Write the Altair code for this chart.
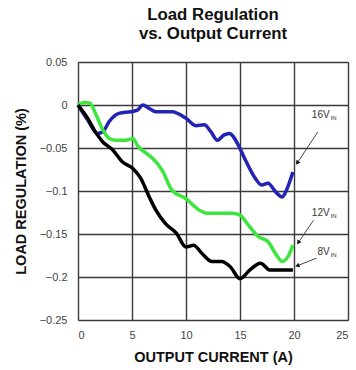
import altair as alt
import pandas as pd
import numpy as np

# ---- data ----
blue_x = [0, 0.9, 1.8, 2.3, 2.9, 3.8, 4.9, 5.5, 6.0, 6.6, 7.2, 8.7, 10.0, 10.9, 11.7, 12.3, 12.9, 13.5, 14.0, 14.9, 15.5, 16.4, 17.0, 17.6, 18.3, 18.9, 19.3, 19.9]
blue_y = [0, -0.0175, -0.033, -0.031, -0.019, -0.0097, -0.0078, -0.006, 0.0, -0.004, -0.0078, -0.0078, -0.0155, -0.024, -0.023, -0.031, -0.041, -0.035, -0.033, -0.048, -0.064, -0.085, -0.093, -0.091, -0.101, -0.107, -0.099, -0.078]

green_x = [0, 0.6, 1.1, 1.7, 2.3, 2.9, 3.5, 4.4, 5.1, 5.5, 6.3, 6.9, 7.8, 8.7, 10.0, 11.2, 12.1, 14.3, 15.0, 15.8, 16.7, 17.6, 18.4, 18.9, 19.5, 19.9]
green_y = [0, 0.003, 0.002, -0.012, -0.029, -0.039, -0.041, -0.041, -0.039, -0.047, -0.056, -0.062, -0.076, -0.099, -0.109, -0.122, -0.126, -0.126, -0.128, -0.140, -0.153, -0.159, -0.175, -0.182, -0.175, -0.163]

black_x = [0, 0.8, 1.7, 2.3, 3.2, 4.1, 5.1, 5.8, 6.6, 7.2, 8.1, 9.1, 10.0, 10.7, 11.5, 12.4, 13.3, 14.1, 15.0, 15.9, 16.9, 17.8, 18.9, 19.9]
black_y = [0, -0.0136, -0.033, -0.043, -0.052, -0.066, -0.074, -0.085, -0.107, -0.122, -0.138, -0.149, -0.165, -0.163, -0.173, -0.182, -0.182, -0.188, -0.202, -0.192, -0.184, -0.192, -0.192, -0.192]

series_names = ["16V", "12V", "8V"]
series_colors = ["#2424b4", "#3ce63c", "#000000"]

x_ticks = [0, 5, 10, 15, 20, 25]
y_ticks = [0.05, 0, -0.05, -0.1, -0.15, -0.2, -0.25]

# annotation placement (data coords)
lab_x = [23.3, 23.3, 23.3]
lab_y = [-0.0116, -0.1256, -0.171]
arr_x0 = [22.2, 21.8, 22.1]
arr_y0 = [-0.0314, -0.134, -0.178]
arr_x1 = [20.3, 20.4, 20.3]
arr_y1 = [-0.0674, -0.160, -0.187]

W, H = 270, 258
XMIN, XMAX = 0, 25
YMIN, YMAX = -0.25, 0.05

rows = []
for name, xs, ys in [("16V", blue_x, blue_y), ("12V", green_x, green_y), ("8V", black_x, black_y)]:
    for i, (a, b) in enumerate(zip(xs, ys)):
        rows.append({"series": name, "x": a, "y": b, "order": i})
df = pd.DataFrame(rows)

xs = alt.Scale(domain=[XMIN, XMAX], nice=False, zero=False)
ys = alt.Scale(domain=[YMIN, YMAX], nice=False, zero=False)

FONT = "Liberation Sans"
base_axis_x = alt.Axis(values=x_ticks, title="OUTPUT CURRENT (A)", grid=True, gridColor="#3a3a3a",
                       gridWidth=1.4, tickSize=0, labelPadding=9, labelFontSize=11,
                       labelColor="#444444", titleFontSize=14.5, titleFont=FONT,
                       labelFont=FONT, titleFontWeight="bold", titlePadding=10,
                       titleColor="#111111", domain=False)
base_axis_y = alt.Axis(values=y_ticks, title="LOAD REGULATION (%)", grid=True, gridColor="#3a3a3a",
                       gridWidth=1.4, tickSize=0, labelPadding=11, labelFontSize=11,
                       labelColor="#444444", titleFontSize=14.5, titleFont=FONT,
                       labelFont=FONT, titleFontWeight="bold", titlePadding=11,
                       titleColor="#111111", domain=False,
                       labelExpr="datum.value == 0 ? '0' : format(datum.value, '.2~f')")

lines = alt.Chart(df).mark_line(strokeWidth=3.5, interpolate="monotone").encode(
    x=alt.X("x:Q", scale=xs, axis=base_axis_x),
    y=alt.Y("y:Q", scale=ys, axis=base_axis_y),
    color=alt.Color("series:N", scale=alt.Scale(domain=series_names, range=series_colors), legend=None),
    order="order:Q",
    detail="series:N",
)

# arrows
px_per_x = W / (XMAX - XMIN)
px_per_y = H / (YMAX - YMIN)
angles = []
for a0, b0, a1, b1 in zip(arr_x0, arr_y0, arr_x1, arr_y1):
    dx = (a1 - a0) * px_per_x
    dy = -(b1 - b0) * px_per_y
    angles.append(float(np.degrees(np.arctan2(dx, -dy))) % 360)

ann = pd.DataFrame({
    "name": series_names, "lx": lab_x, "ly": lab_y,
    "x0": arr_x0, "y0": arr_y0, "x1": arr_x1, "y1": arr_y1, "angle": angles,
    "sub": ["IN", "IN", "IN"],
})

rules = alt.Chart(ann).mark_rule(color="#333333", strokeWidth=0.9).encode(
    x=alt.X("x0:Q", scale=xs), y=alt.Y("y0:Q", scale=ys),
    x2="x1:Q", y2="y1:Q",
)
heads = alt.Chart(ann).mark_point(shape="triangle-up", filled=True, color="#111111", size=24, opacity=1).encode(
    x=alt.X("x1:Q", scale=xs), y=alt.Y("y1:Q", scale=ys),
    angle=alt.Angle("angle:Q", scale=None),
)
labels = alt.Chart(ann).mark_text(align="right", baseline="middle", fontSize=10, color="#333333",
                                  font=FONT).encode(
    x=alt.X("lx:Q", scale=xs), y=alt.Y("ly:Q", scale=ys), text="name:N",
)
subs = alt.Chart(ann).mark_text(align="left", baseline="middle", fontSize=6, dx=1, dy=3,
                                color="#333333", font=FONT).encode(
    x=alt.X("lx:Q", scale=xs), y=alt.Y("ly:Q", scale=ys), text="sub:N",
)

chart = alt.layer(lines, rules, heads, labels, subs).properties(
    width=W, height=H,
    title=alt.TitleParams(text=["Load Regulation", "vs. Output Current"], fontSize=16.8,
                          font=FONT, fontWeight="bold", anchor="middle",
                          lineHeight=19, offset=13, color="#111111"),
    autosize=alt.AutoSizeParams(type="none"),
    padding={"left": 78, "top": 62, "right": 8, "bottom": 50},
).configure_view(stroke="#555555", strokeWidth=1.5).configure(background="white")

chart.save("out.html", embed_options={"renderer": "svg", "actions": False})
